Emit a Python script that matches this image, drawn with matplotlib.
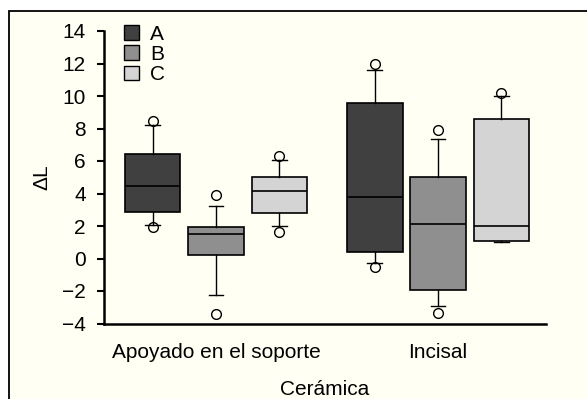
import matplotlib
matplotlib.use("Agg")
import matplotlib.pyplot as plt
from matplotlib.patches import Patch, Rectangle

plt.rcParams["font.family"] = ["Liberation Sans", "DejaVu Sans"]

groups = ["Apoyado en el soporte", "Incisal"]
series = ["A", "B", "C"]
colors = ["#404040", "#8f8f8f", "#d4d4d4"]

# per series: values for (Apoyado en el soporte, Incisal)
q1 = {"A": [2.84, 0.39], "B": [0.23, -1.93], "C": [2.78, 1.08]}
med = {"A": [4.49, 3.77], "B": [1.53, 2.12], "C": [4.15, 1.98]}
q3 = {"A": [6.43, 9.59], "B": [1.96, 5.00], "C": [5.00, 8.57]}
whislo = {"A": [2.08, -0.28], "B": [-2.24, -2.95], "C": [2.00, 1.00]}
whishi = {"A": [8.20, 11.63], "B": [3.22, 7.35], "C": [6.08, 10.00]}
fliers = {
    "A": [[8.45, 1.96], [11.95, -0.53]],
    "B": [[3.88, -3.44], [7.93, -3.34]],
    "C": [[6.30, 1.61], [10.20]],
}

fig = plt.figure(figsize=(5.87, 3.99), dpi=100)
fig.patch.set_facecolor("white")
fig.patches.append(Rectangle((9 / 587, -0.02), 1.0, (399 - 11) / 399 + 0.02,
                             transform=fig.transFigure, facecolor="#fffff3",
                             edgecolor="black", linewidth=1.3, zorder=-10))

ax = fig.add_axes([104 / 587, (399 - 323.5) / 399, (546 - 104) / 587, (323.5 - 31) / 399])
ax.set_facecolor("none")

offsets = [-0.285, 0.0, 0.285]
for s, off, col in zip(series, offsets, colors):
    stats = []
    for g in range(len(groups)):
        stats.append(dict(q1=q1[s][g], med=med[s][g], q3=q3[s][g],
                          whislo=whislo[s][g], whishi=whishi[s][g], fliers=fliers[s][g]))
    ax.bxp(stats, positions=[g + off for g in range(len(groups))], widths=0.25,
           patch_artist=True, showfliers=True, capwidths=0.066,
           boxprops=dict(facecolor=col, edgecolor="black", linewidth=1.2),
           medianprops=dict(color="black", linewidth=1.2),
           whiskerprops=dict(color="black", linewidth=1.0),
           capprops=dict(color="black", linewidth=1.0),
           flierprops=dict(marker="o", markerfacecolor="none", markeredgecolor="black",
                           markersize=7, markeredgewidth=1.0))

ax.set_xlim(-0.5045, 1.486)
ax.set_ylim(-4, 14)
ax.set_yticks(range(-4, 15, 2))
ax.set_yticklabels([str(v).replace("-", "\u2212") for v in range(-4, 15, 2)])
ax.set_xticks([0, 1])
ax.set_xticklabels(groups)
ax.tick_params(axis="y", direction="out", length=5, width=1.5, labelsize=15, pad=8)
ax.tick_params(axis="x", length=0, labelsize=15, pad=14)
for side in ["top", "right"]:
    ax.spines[side].set_visible(False)
for side in ["left", "bottom"]:
    ax.spines[side].set_linewidth(1.8)

ax.set_ylabel("ΔL", fontsize=15, labelpad=8)
ax.set_xlabel("Cerámica", fontsize=15, labelpad=13)

handles = [Patch(facecolor=c, edgecolor="black", linewidth=1.0) for c in colors]
ax.legend(handles, series, loc="upper left", bbox_to_anchor=(0.045, 1.02), frameon=False,
          fontsize=15, handlelength=0.72, handleheight=0.72, handletextpad=0.55,
          labelspacing=0.05, borderpad=0.0, borderaxespad=0.0)

fig.savefig("out.png", dpi=100, facecolor=fig.get_facecolor())
